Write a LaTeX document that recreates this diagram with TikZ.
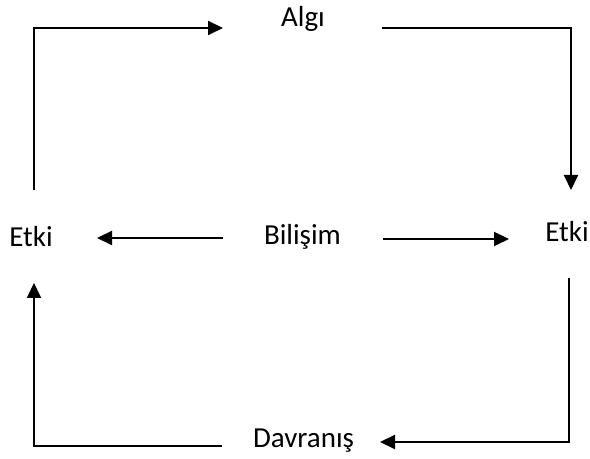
\documentclass[tikz,border=0pt]{standalone}
\usepackage{fontspec}
\setmainfont{Carlito}
\usepackage{tikz}
\usetikzlibrary{arrows.meta}

\tikzset{
  lbl/.style={anchor=base, inner sep=0pt, font=\fontsize{14.5}{17}\selectfont},
  cyc/.style={line width=1pt, -{Triangle[length=7.5pt, width=7pt]}}
}

\begin{document}
\begin{tikzpicture}[x=0.5pt, y=-0.5pt]
	\useasboundingbox (0,0) rectangle (590,459);
	% labels
	\node[lbl] (algi) at (303,27) {Algı};
	\node[lbl] (etkiL) at (31,247) {Etki};
	\node[lbl] (bilisim) at (302.5,245) {Bilişim};
	\node[lbl] (etkiR) at (567,242) {Etki};
	\node[lbl] (davranis) at (303.5,448) {Davranış};
	% free ends of the connectors
	\coordinate (a1) at (34,190);
	\coordinate (a2) at (223,28);
	\coordinate (b1) at (382,28);
	\coordinate (b2) at (571,190);
	\coordinate (c1) at (223,238);
	\coordinate (c2) at (97,238);
	\coordinate (d1) at (383,239);
	\coordinate (d2) at (509,239);
	\coordinate (e1) at (569,278);
	\coordinate (e2) at (380,442);
	\coordinate (f1) at (222,446);
	\coordinate (f2) at (34,283);
	% arrows
	\draw[cyc] (a1) |- (a2);
	\draw[cyc] (b1) -| (b2);
	\draw[cyc] (c1) -- (c2);
	\draw[cyc] (d1) -- (d2);
	\draw[cyc] (e1) |- (e2);
	\draw[cyc] (f1) -| (f2);
\end{tikzpicture}
\end{document}
